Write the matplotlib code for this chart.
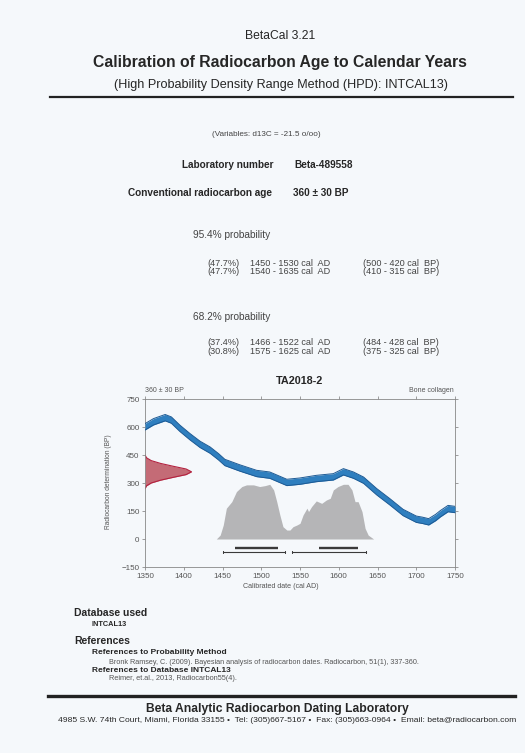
import numpy as np
import matplotlib.pyplot as plt

W, H = 525, 753
FONT = "Liberation Sans"
plt.rcParams["font.family"] = [FONT, "DejaVu Sans"]

# calibration curve (INTCAL13)
curve_years = [1350, 1361, 1376, 1384, 1395, 1408, 1421, 1434, 1445, 1453, 1472,
               1494, 1511, 1533, 1550, 1571, 1593, 1606, 1619, 1632, 1649, 1666,
               1683, 1700, 1708, 1716, 1725, 1731, 1741, 1750]
curve_bp = [601, 628, 650, 637, 593, 548, 507, 476, 440, 410, 381,
            351, 342, 303, 310, 324, 333, 360, 342, 315, 253, 199,
            142, 106, 100, 92, 115, 135, 163, 158]
CURVE_HALF = 17

# radiocarbon age distribution on the y axis (width in years)
age_bp = [450, 435, 420, 405, 390, 375, 360, 345, 330, 315, 300, 285, 270]
age_width = [0, 2, 8, 20, 36, 53, 60, 53, 36, 20, 8, 2, 0]

# calibrated probability (grey), height in chart units
cal_years = [1442, 1447, 1451, 1455, 1462, 1468, 1475, 1481, 1490, 1498, 1505,
             1511, 1516, 1520, 1524, 1528, 1533, 1537, 1541, 1546, 1550, 1554,
             1559, 1561, 1565, 1571, 1578, 1584, 1589, 1593, 1599, 1606, 1612,
             1617, 1621, 1625, 1630, 1634, 1638, 1645]
cal_prob = [0, 21, 75, 165, 200, 254, 281, 290, 290, 281, 286,
            293, 263, 200, 129, 66, 48, 48, 66, 75, 84, 129,
            165, 147, 174, 204, 191, 209, 218, 263, 281, 293, 293,
            263, 200, 200, 147, 57, 21, 0]

range95 = [(1450, 1530), (1540, 1635)]
range95_pct = ["47.7%", "47.7%"]
range68 = [(1466, 1522), (1575, 1625)]
range68_pct = ["37.4%", "30.8%"]

x_ticks = [1350, 1400, 1450, 1500, 1550, 1600, 1650, 1700, 1750]
y_ticks = [750, 600, 450, 300, 150, 0, -150]

fig = plt.figure(figsize=(W / 100, H / 100), dpi=100)
fig.patch.set_facecolor("#f5f8fb")


def txt(x, y, s, size, bold=False, ha="left", color="#262626", **kw):
    fig.text(x / W, 1 - y / H, s, fontsize=size, ha=ha, va="center",
             fontweight="bold" if bold else "normal", color=color, **kw)


def hline(x0, x1, y, lw):
    fig.add_artist(plt.Line2D([x0 / W, x1 / W], [1 - y / H, 1 - y / H],
                              color="#222222", lw=lw))


# header
txt(280, 36, "BetaCal 3.21", 8.7, ha="center")
txt(280, 62, "Calibration of Radiocarbon Age to Calendar Years", 11.3, bold=True, ha="center")
txt(281, 85, "(High Probability Density Range Method (HPD): INTCAL13)", 9.1, ha="center")
hline(50, 513, 97, 1.6)

txt(266, 135, "(Variables: d13C = -21.5 o/oo)", 5.9, ha="center", color="#444444")
txt(274, 165, "Laboratory number", 7.2, bold=True, ha="right")
txt(294, 165, "Beta-489558", 7.2, bold=True)
txt(272, 193, "Conventional radiocarbon age", 7.2, bold=True, ha="right")
txt(293, 193, "360 \u00b1 30 BP", 7.2, bold=True)


def ranges_block(y_head, y_rows, title, ranges, pcts):
    txt(193, y_head, title, 7.3, color="#444444")
    for yy, (a, b), p in zip(y_rows, ranges, pcts):
        txt(207, yy, f"({p})", 6.6, color="#444444")
        txt(250, yy, f"{a} - {b} cal  AD", 6.6, color="#444444")
        txt(363, yy, f"({1950 - a} - {1950 - b} cal  BP)", 6.6, color="#444444")


ranges_block(235, [263, 272], "95.4% probability", range95, range95_pct)
ranges_block(317, [342, 351], "68.2% probability", range68, range68_pct)

# chart
ax = fig.add_axes([145 / W, 1 - 567 / H, 310 / W, 168 / H])
ax.set_facecolor("none")
ax.set_xlim(1350, 1750)
ax.set_ylim(-150, 750)

cy = np.array(curve_bp)
ax.fill_between(curve_years, cy - CURVE_HALF, cy + CURVE_HALF, color="#2f7fbf", lw=0, zorder=3)
ax.plot(curve_years, cy + CURVE_HALF, color="#1d5a94", lw=0.7, zorder=4)
ax.plot(curve_years, cy - CURVE_HALF, color="#1d5a94", lw=0.7, zorder=4)

ax.fill_betweenx(age_bp, 1350, 1350 + np.array(age_width), color="#c46b76", lw=0, zorder=2)
ax.plot(1350 + np.array(age_width), age_bp, color="#b3223f", lw=0.8, zorder=2)

ax.fill_between(cal_years, 0, cal_prob, color="#b5b5b7", lw=0, zorder=1)

for a, b in range68:
    ax.plot([a, b], [-50, -50], color="#3a3a3a", lw=1.7, solid_capstyle="butt")
for a, b in range95:
    ax.plot([a, b], [-70, -70], color="#3a3a3a", lw=0.8)
    ax.plot([a, a], [-76, -62], color="#3a3a3a", lw=0.7)
    ax.plot([b, b], [-76, -62], color="#3a3a3a", lw=0.7)

ax.set_xticks(x_ticks)
ax.set_yticks(y_ticks)
ax.tick_params(labelsize=5.8, labelcolor="#555555", color="#777777", length=2.5, width=0.5, pad=1.5)
ax.tick_params(which="both", top=True, right=True)
ax.tick_params(axis="x", direction="out")
for s in ax.spines.values():
    s.set_color("#888888")
    s.set_linewidth(0.6)

txt(300, 381, "TA2018-2", 7.8, bold=True, ha="center")
txt(145, 391, "360 \u00b1 30 BP", 5, color="#555555")
txt(454, 391, "Bone collagen", 5, ha="right", color="#555555")
txt(108, 482, "Radiocarbon determination (BP)", 4.8, ha="center", color="#555555", rotation=90)
txt(281, 587, "Calibrated date (cal AD)", 5.1, ha="center", color="#555555")

# references
txt(74, 613, "Database used", 7.5, bold=True)
txt(92, 625, "INTCAL13", 5.3, bold=True)
txt(74, 641, "References", 7.5, bold=True)
txt(92, 652, "References to Probability Method", 6.0, bold=True)
txt(109, 662, "Bronk Ramsey, C. (2009). Bayesian analysis of radiocarbon dates. Radiocarbon, 51(1), 337-360.",
    5.2, color="#555555")
txt(92, 670, "References to Database INTCAL13", 6.0, bold=True)
txt(109, 679, "Reimer, et.al., 2013, Radiocarbon55(4).", 5.3, color="#555555")

# footer
hline(48, 515, 696, 2.4)
txt(277, 709, "Beta Analytic Radiocarbon Dating Laboratory", 8.7, bold=True, ha="center")
txt(287, 721, "4985 S.W. 74th Court, Miami, Florida 33155 \u2022  Tel: (305)667-5167 \u2022  "
    "Fax: (305)663-0964 \u2022  Email: beta@radiocarbon.com", 6.1, ha="center")

fig.savefig("out.png", dpi=100, facecolor=fig.get_facecolor())
